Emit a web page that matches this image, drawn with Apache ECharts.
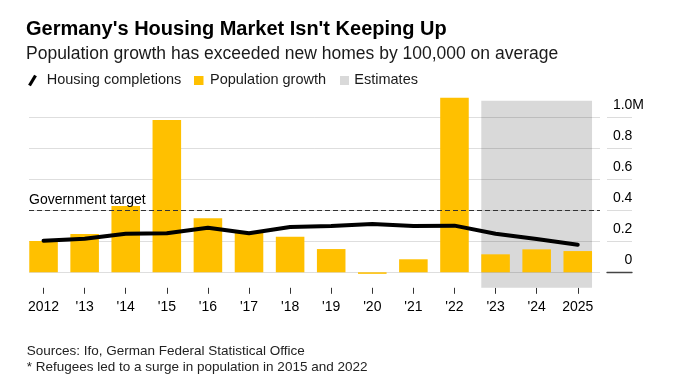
<!DOCTYPE html>
<html>
<head>
<meta charset="utf-8">
<style>
  html, body { margin: 0; padding: 0; background: #fff; }
  #chart { width: 685px; height: 382px; }
</style>
<script src="https://cdn.jsdelivr.net/npm/echarts@6/dist/echarts.min.js"></script>
</head>
<body>
<div id="chart"></div>
<script>
// ---- Data (in millions) ----
const years = ['2012', "'13", "'14", "'15", "'16", "'17", "'18", "'19", "'20", "'21", "'22", "'23", "'24", '2025'];
const populationGrowth = [0.202, 0.247, 0.428, 0.983, 0.348, 0.255, 0.230, 0.150, -0.010, 0.084, 1.126, 0.116, 0.148, 0.137];
const housingCompletions = [0.204, 0.217, 0.249, 0.252, 0.288, 0.252, 0.292, 0.299, 0.312, 0.299, 0.301, 0.249, 0.215, 0.178];
const estimateYears = ["'23", "'24", '2025'];
const governmentTarget = 0.4;
const yTicks = [0, 0.2, 0.4, 0.6, 0.8, 1.0];

const FONT = "'Liberation Sans', Arial, Helvetica, sans-serif";
const YELLOW = '#FFC000';
const GRAY = '#d9d9d9';
const BAR_FRAC = 0.695;

const firstEst = years.indexOf(estimateYears[0]);
const lastEst = years.indexOf(estimateYears[estimateYears.length - 1]);

const chart = echarts.init(document.getElementById('chart'), null, { renderer: 'canvas' });

function fmtTick(v) {
  if (Math.abs(v - 1) < 1e-9) return '{n|1.0}{m|M}';
  const s = v === 0 ? '0' : v.toFixed(1);
  return '{n|' + s + '}{h|M}';
}

const option = {
  animation: false,
  backgroundColor: '#fff',
  textStyle: { fontFamily: FONT },
  title: [
    {
      text: "Germany's Housing Market Isn't Keeping Up",
      left: 26, top: 19, padding: 0,
      textStyle: { fontFamily: FONT, fontSize: 20, fontWeight: 'bold', color: '#000' }
    },
    {
      text: 'Population growth has exceeded new homes by 100,000 on average',
      left: 26, top: 45.2, padding: 0,
      textStyle: { fontFamily: FONT, fontSize: 17.5, fontWeight: 'normal', color: '#1a1a1a' }
    }
  ],
  grid: [
    { left: 23, right: 86.7, top: 86.3, bottom: 94.2 },
    { left: 29, right: 85, top: 117.3, bottom: 109.7 },
    { left: 607, right: 53, top: 117.3, bottom: 109.7 }
  ],
  xAxis: [
    {
      type: 'category', gridIndex: 0, data: years, position: 'bottom',
      axisLine: { show: false, onZero: false },
      axisTick: { show: true, alignWithLabel: true, length: 6, lineStyle: { color: '#333', width: 1 } },
      axisLabel: { fontFamily: FONT, fontSize: 14, color: '#000', margin: 12 }
    },
    { type: 'value', gridIndex: 0, min: -0.5, max: 13.5, show: false },
    { type: 'value', gridIndex: 1, min: 0, max: 1, show: false },
    {
      type: 'value', gridIndex: 2, min: 0, max: 1,
      axisLine: { show: true, onZero: false, lineStyle: { color: '#444', width: 1.3 } },
      axisTick: { show: false }, axisLabel: { show: false }, splitLine: { show: false }
    }
  ],
  yAxis: [
    { type: 'value', gridIndex: 0, min: -0.1, max: 1.2, show: false },
    {
      type: 'value', gridIndex: 1, min: 0, max: 1, interval: 0.2, z: 2,
      axisLine: { show: false }, axisTick: { show: false }, axisLabel: { show: false },
      splitLine: { show: true, lineStyle: { color: 'rgba(0,0,0,0.13)', width: 1 } }
    },
    {
      type: 'value', gridIndex: 2, min: 0, max: 1, interval: 0.2, position: 'right',
      axisLine: { show: false }, axisTick: { show: false },
      splitLine: { show: true, lineStyle: { color: '#dcdcdc', width: 1 } },
      axisLabel: {
        show: true, align: 'right', margin: 12, verticalAlign: 'bottom',
        padding: [0, 0, 5, 0],
        formatter: fmtTick,
        rich: {
          n: { fontFamily: FONT, fontSize: 14, color: '#000' },
          m: { fontFamily: FONT, fontSize: 14, color: '#000' },
          h: { fontFamily: FONT, fontSize: 14, color: 'rgba(0,0,0,0)' }
        }
      }
    }
  ],
  series: [
    {
      name: 'Estimates', type: 'line', xAxisIndex: 1, yAxisIndex: 0, data: [],
      silent: true,
      markArea: {
        silent: true, z: 1,
        itemStyle: { color: GRAY },
        data: [[
          { xAxis: firstEst - BAR_FRAC / 2, yAxis: -0.1 },
          { xAxis: lastEst + BAR_FRAC / 2, yAxis: 1.107 }
        ]]
      }
    },
    {
      name: 'Population growth', type: 'bar', xAxisIndex: 0, yAxisIndex: 0,
      data: populationGrowth, barWidth: (BAR_FRAC * 100) + '%', z: 3, clip: false,
      itemStyle: { color: YELLOW }, silent: true
    },
    {
      name: 'Government target', type: 'line', xAxisIndex: 2, yAxisIndex: 1, data: [],
      silent: true,
      markLine: {
        silent: true, z: 5, symbol: ['none', 'none'],
        lineStyle: { type: [5, 3], color: '#333', width: 1 },
        label: {
          show: true, position: 'insideStartTop', formatter: 'Government target',
          fontFamily: FONT, fontSize: 14, color: '#000', distance: [0, 3]
        },
        data: [{ yAxis: governmentTarget }]
      }
    },
    {
      name: 'Housing completions', type: 'line', xAxisIndex: 0, yAxisIndex: 0,
      data: housingCompletions, symbol: 'none', z: 6, silent: true,
      lineStyle: { color: '#000', width: 4, cap: 'round', join: 'round' }
    }
  ],
  graphic: [
    { type: 'line', shape: { x1: 29.5, y1: 85.5, x2: 35.5, y2: 75.5 }, style: { stroke: '#000', lineWidth: 3.2 } },
    { type: 'text', x: 46.7, y: 72.7, style: { text: 'Housing completions', font: '14.5px ' + FONT, fill: '#1a1a1a', verticalAlign: 'top' } },
    { type: 'rect', shape: { x: 194, y: 76, width: 9.5, height: 9 }, style: { fill: YELLOW } },
    { type: 'text', x: 210, y: 72.7, style: { text: 'Population growth', font: '14.5px ' + FONT, fill: '#1a1a1a', verticalAlign: 'top' } },
    { type: 'rect', shape: { x: 340, y: 76, width: 9, height: 9 }, style: { fill: GRAY } },
    { type: 'text', x: 354.3, y: 72.7, style: { text: 'Estimates', font: '14.5px ' + FONT, fill: '#1a1a1a', verticalAlign: 'top' } },
    { type: 'text', x: 26.7, y: 344.3, style: { text: 'Sources: Ifo, German Federal Statistical Office', font: '13.5px ' + FONT, fill: '#222', verticalAlign: 'top' } },
    { type: 'text', x: 26.7, y: 360.3, style: { text: '* Refugees led to a surge in population in 2015 and 2022', font: '13.5px ' + FONT, fill: '#222', verticalAlign: 'top' } }
  ]
};

chart.setOption(option);
</script>
</body>
</html>
